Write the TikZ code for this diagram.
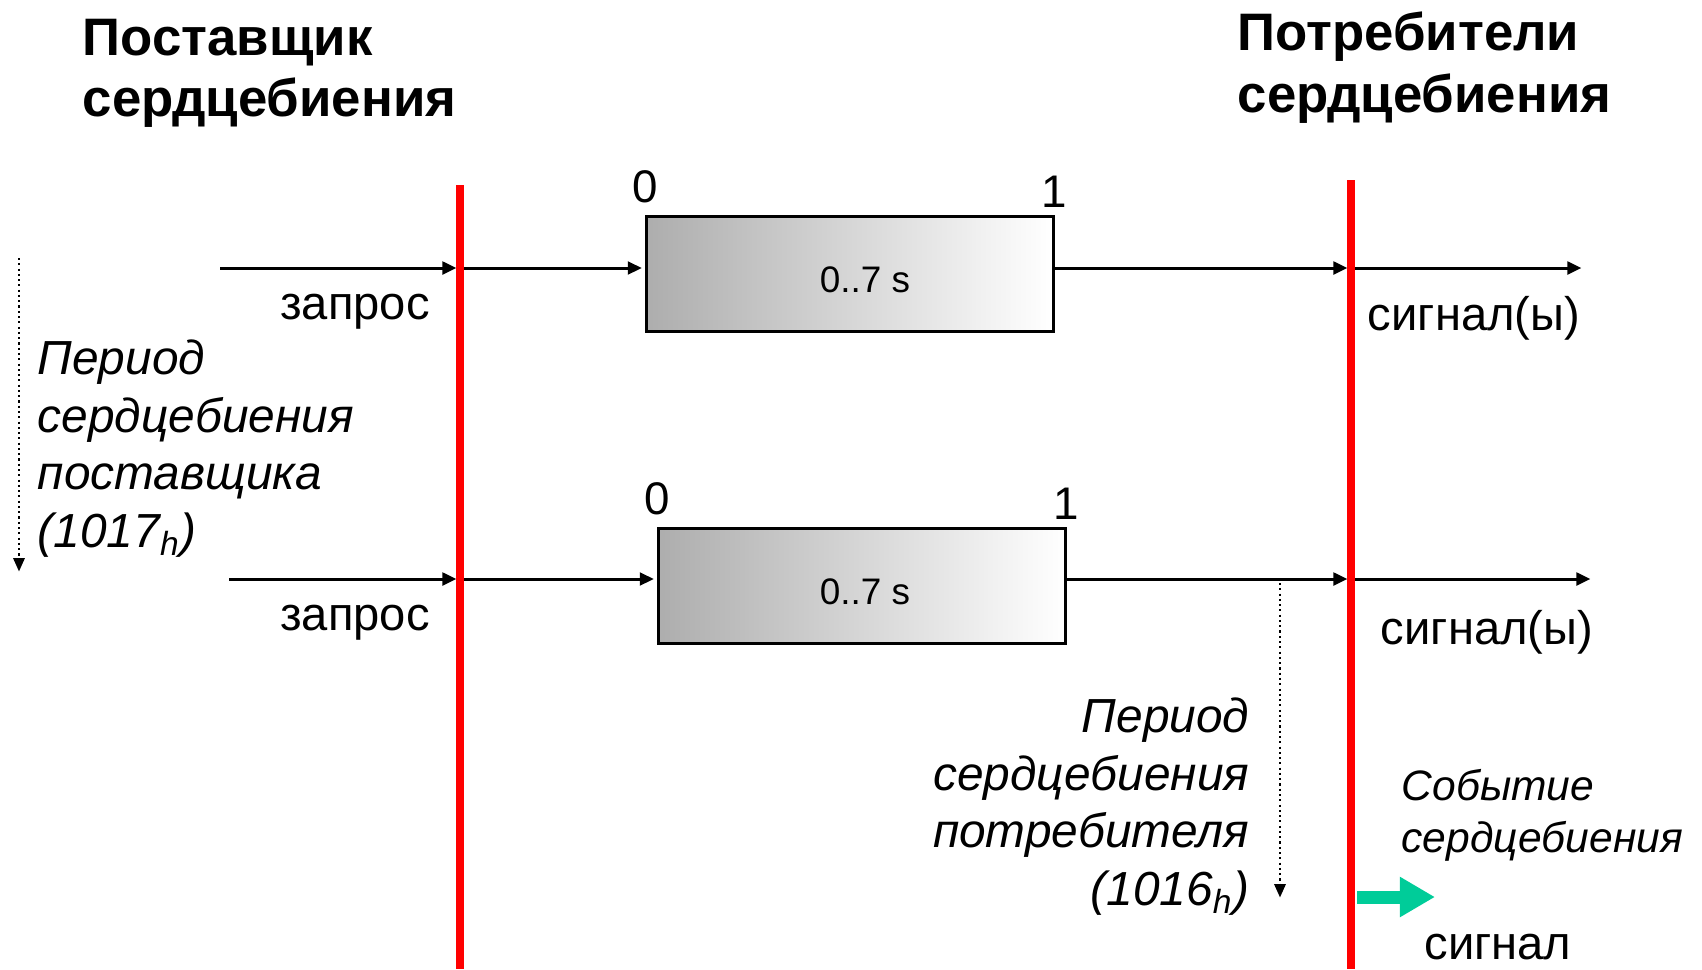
\documentclass[tikz,border=0pt]{standalone}
\usepackage{fontspec}
\setmainfont{Liberation Sans}
\usetikzlibrary{arrows.meta,positioning}
\definecolor{hbgreen}{RGB}{0,204,153}
\tikzstyle{every node}=[inner sep=0pt]
\tikzstyle{arr}=[-{Triangle[length=4pt,width=3.6pt]},line width=0.85pt]
\tikzstyle{dotarr}=[-{Triangle[length=3.8pt,width=3.2pt]},dash pattern=on 0.6pt off 0.9pt,line width=0.65pt]
\tikzstyle{redline}=[red,line width=2pt]
\tikzstyle{window}=[draw,line width=0.85pt,left color=black!32,right color=white,minimum width=4.06cm,minimum height=1.15cm]
\tikzstyle{title}=[font=\fontsize{15}{17.6}\selectfont\bfseries,align=left]
\tikzstyle{txt}=[font=\fontsize{13.4}{16}\selectfont]
\tikzstyle{tick}=[font=\fontsize{13}{15}\selectfont]
\tikzstyle{dur}=[font=\fontsize{10.5}{12}\selectfont]
\tikzstyle{period}=[font=\fontsize{13.6}{16.4}\selectfont\itshape]
\tikzstyle{event}=[font=\fontsize{12.1}{14.8}\selectfont\itshape,align=left]

\begin{document}
\begin{tikzpicture}[x=0.01cm,y=-0.01cm,shorten >=1pt]
\useasboundingbox (0,0) rectangle (1702,969);
% titles
\node[title,anchor=north west] (prov) at (82,18) {Поставщик\\сердцебиения};
\node[title,anchor=north west] (cons) at (1237,11) {Потребители\\сердцебиения};

% windows
\node[window] (w_1) at (850,274) {};
\node[window] (w_2) at (862,586) {};
\node[tick] (z_1) [above=0.11cm of w_1.north west] {0};
\node[tick] (o_1) [above=0.07cm of w_1.north east] {1};
\node[tick] (z_2) [above=0.11cm of w_2.north west] {0};
\node[tick] (o_2) [above=0.07cm of w_2.north east] {1};
\node[dur] (d_1) at (865,280) {0..7 s};
\node[dur] (d_2) at (865,592) {0..7 s};

% red lines
\coordinate (pl_t) at (460,185);
\coordinate (pl_b) at (460,969);
\coordinate (cl_t) at (1351,180);
\coordinate (cl_b) at (1351,969);

% requests and signals
\coordinate (in_1) at (220,268);
\coordinate (out_1) at (1585,268);
\coordinate (in_2) at (229,579);
\coordinate (out_2) at (1594,579);
\draw[arr] (in_1) -- (in_1 -| pl_t);
\draw[arr] (pl_t |- in_1) -- (w_1.west |- in_1);
\draw[arr] (w_1.east |- in_1) -- (cl_t |- in_1);
\draw[arr] (cl_t |- in_1) -- (out_1);
\draw[arr] (in_2) -- (in_2 -| pl_t);
\draw[arr] (pl_t |- in_2) -- (w_2.west |- in_2);
\draw[arr] (w_2.east |- in_2) -- (cl_t |- in_2);
\draw[arr] (cl_t |- in_2) -- (out_2);
\draw[redline,shorten >=0pt] (pl_t) -- (pl_b);
\draw[redline,shorten >=0pt] (cl_t) -- (cl_b);

\node[txt] (req_1) at (355,312) {запрос};
\node[txt] (req_2) at (355,623) {запрос};
\node[txt] (sig_1) at (1474,318) {сигнал(ы)};
\node[txt] (sig_2) at (1487,632) {сигнал(ы)};

% periods
\coordinate (pp_t) at (19,258);
\coordinate (pp_b) at (19,575);
\coordinate (cp_t) at (1280,583);
\coordinate (cp_b) at (1280,901);
\draw[dotarr] (pp_t) -- (pp_b);
\draw[dotarr] (cp_t) -- (cp_b);
\node[period,anchor=north west,align=left] (pp_txt) at (37,339) {Период\\сердцебиения\\поставщика\\(1017\textsubscript{h})};
\node[period,anchor=north east,align=right] (cp_txt) at (1250,697) {Период\\сердцебиения\\потребителя\\(1016\textsubscript{h})};

% heartbeat event
\node[event,anchor=north west] (ev_txt) at (1401,769) {Событие\\сердцебиения};
\coordinate (ev_a) at (1357,897);
\coordinate (ev_b) at (1435,897);
\draw[hbgreen,line width=3.7pt,-{Triangle[length=10pt,width=10.8pt]},shorten >=0pt] (ev_a) -- (ev_b);
\node[txt] (sig_3) at (1498,947) {сигнал};
\end{tikzpicture}
\end{document}
